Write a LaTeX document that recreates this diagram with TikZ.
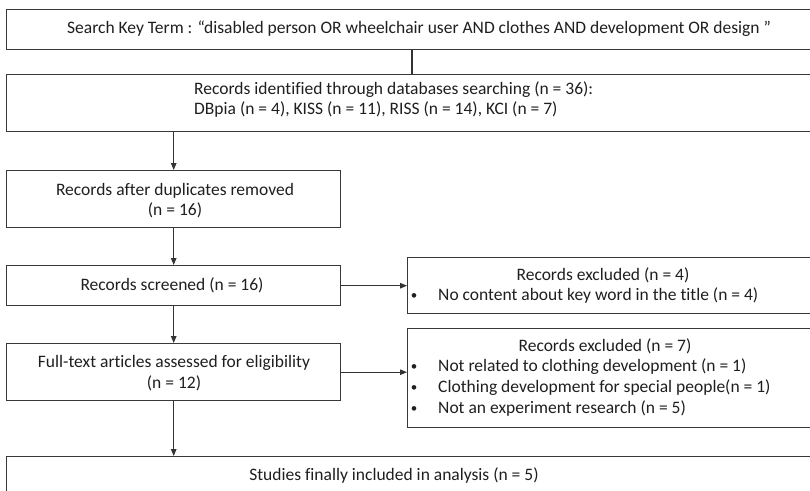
\documentclass[tikz,border=0pt]{standalone}
\usepackage{fontspec}
\setmainfont{Carlito}[Ligatures={TeX,NoCommon}]
\usetikzlibrary{arrows.meta}
\begin{document}
\begin{tikzpicture}[x=1pt,y=-1pt,
  box/.style={draw=black!78, line width=1.4pt, inner sep=0pt, anchor=north west},
  txt/.style={inner sep=0pt, font=\fontsize{17.5}{20.7}\selectfont, align=center, text=black!88},
  ltxt/.style={txt, anchor=west, align=left},
  bul/.style={inner sep=0pt, font=\fontsize{13}{14}\selectfont, text=black!88},
  line/.style={draw=black!80, line width=1.1pt},
  arr/.style={line, -{Triangle[length=7pt,width=5.5pt]}}
]
\useasboundingbox (0,0) rectangle (810,490);
\fill[white] (0,0) rectangle (810,490);

% boxes
\node[box, minimum width=830pt, minimum height=40pt] (top) at (6,9) {};
\node[box, minimum width=830pt, minimum height=57pt] (b2) at (6,74) {};
\node[box, minimum width=334pt, minimum height=57pt] (b3) at (6,170) {};
\node[box, minimum width=334pt, minimum height=40pt] (b4) at (6,265) {};
\node[box, minimum width=334pt, minimum height=57pt] (b5) at (6,343) {};
\node[box, minimum width=430pt, minimum height=56pt] (e1) at (407,257) {};
\node[box, minimum width=430pt, minimum height=99pt] (e2) at (407,328) {};
\node[box, minimum width=830pt, minimum height=70pt] (fin) at (6,456) {};

% texts
\node[txt] (ttop) at (419,29) {Search Key Term : “disabled person OR wheelchair user AND clothes AND development OR design ”};
\node[ltxt] (tb2) at (194,99.5) {Records identified through databases searching (n = 36):\\DBpia (n = 4), KISS (n = 11), RISS (n = 14), KCI (n = 7)};
\node[txt] (tb3) at (175,200.5) {Records after duplicates removed\\(n = 16)};
\node[txt] (tb4) at (172,285) {Records screened (n = 16)};
\node[txt] (tb5) at (174,373) {Full-text articles assessed for eligibility\\(n = 12)};
\node[txt] (te1h) at (603,275) {Records excluded (n = 4)};
\node[bul] (be1a) at (414,297) {•};
\node[ltxt] (te1a) at (438,296) {No content about key word in the title (n = 4)};
\node[txt] (te2h) at (605,346) {Records excluded (n = 7)};
\node[bul] (be2a) at (414,367.7) {•};
\node[ltxt] (te2a) at (438,366.7) {Not related to clothing development (n = 1)};
\node[bul] (be2b) at (414,388.4) {•};
\node[ltxt] (te2b) at (438,387.4) {Clothing development for special people(n = 1)};
\node[bul] (be2c) at (414,409.1) {•};
\node[ltxt] (te2c) at (438,408.1) {Not an experiment research (n = 5)};
\node[txt] (tfin) at (394,476) {Studies finally included in analysis (n = 5)};

% connectors
\coordinate (v) at (412,0);
\draw[line] (top.south -| v) -- (b2.north -| v);
\draw[arr] (b2.south -| b3.north) -- (b3.north);
\draw[arr] (b3.south) -- (b4.north);
\draw[arr] (b4.south) -- (b5.north);
\draw[arr] (b5.south) -- (fin.north -| b5.south);
\draw[arr] (b4.east) -- (e1.west |- b4.east);
\draw[arr] (b5.east) -- (e2.west |- b5.east);
\end{tikzpicture}
\end{document}
